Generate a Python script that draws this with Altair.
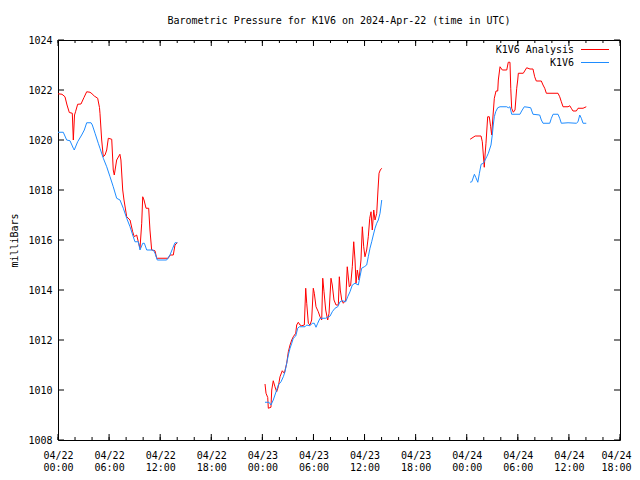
import altair as alt
import pandas as pd

# Hours since 2024-04-22 00:00 UTC, pressure in millibars
red1_h = [0.0, 0.47, 0.82, 1.06, 1.33, 1.68, 1.80, 1.94, 2.06, 2.31, 2.70, 3.05, 3.37, 3.76, 3.99, 4.26, 4.66, 4.87, 4.93, 5.13, 5.32, 5.52, 5.72, 5.91, 6.31, 6.49, 6.61, 6.89, 7.27, 7.39, 7.60, 7.75, 8.07, 8.46, 8.77, 8.96, 9.24, 9.43, 9.63, 9.83, 9.95, 10.10, 10.34, 10.65, 10.80, 11.00, 11.39, 11.59, 12.95, 13.15, 13.54, 13.74, 14.01]
red1_v = [1021.85, 1021.83, 1021.73, 1021.4, 1021.1, 1021.07, 1020.0, 1021.0, 1021.13, 1021.43, 1021.44, 1021.7, 1021.93, 1021.91, 1021.85, 1021.76, 1021.67, 1021.3, 1021.07, 1020.0, 1019.33, 1019.4, 1019.6, 1020.07, 1020.03, 1018.8, 1018.6, 1019.2, 1019.43, 1019.2, 1018.0, 1017.6, 1016.93, 1016.8, 1016.33, 1016.13, 1016.2, 1015.93, 1015.67, 1016.67, 1017.73, 1017.6, 1017.27, 1017.27, 1016.4, 1015.6, 1015.57, 1015.27, 1015.27, 1015.4, 1015.4, 1015.8, 1015.89]

blue1_h = [0.0, 0.62, 1.02, 1.41, 1.80, 1.91, 2.31, 2.78, 3.09, 3.37, 3.88, 4.03, 4.35, 4.73, 4.93, 5.32, 5.72, 6.11, 6.49, 6.89, 7.28, 7.67, 8.07, 8.46, 8.84, 9.04, 9.43, 9.63, 9.95, 10.14, 10.42, 11.19, 11.39, 11.66, 12.76, 13.15, 13.47, 13.74, 14.01]
blue1_v = [1020.31, 1020.31, 1020.0, 1019.97, 1019.67, 1019.6, 1019.93, 1020.2, 1020.4, 1020.69, 1020.69, 1020.6, 1020.27, 1019.87, 1019.67, 1019.27, 1018.93, 1018.53, 1018.13, 1017.67, 1017.6, 1017.27, 1016.87, 1016.53, 1016.13, 1015.93, 1015.93, 1015.6, 1015.87, 1015.87, 1015.6, 1015.6, 1015.47, 1015.2, 1015.2, 1015.4, 1015.67, 1015.89, 1015.89]

red2_h = [24.31, 24.43, 24.63, 24.70, 25.01, 25.10, 25.28, 25.48, 25.68, 25.87, 26.07, 26.34, 26.58, 26.86, 27.05, 27.25, 27.45, 27.63, 27.92, 28.03, 28.22, 28.42, 28.62, 28.93, 29.09, 29.21, 29.40, 29.59, 29.79, 29.98, 30.10, 30.30, 30.57, 30.77, 30.97, 31.09, 31.24, 31.44, 31.67, 31.83, 32.06, 32.21, 32.41, 32.65, 32.92, 33.04, 33.15, 33.32, 33.51, 33.79, 33.97, 34.21, 34.37, 34.56, 34.73, 34.88, 35.00, 35.15, 35.35, 35.58, 35.74, 35.90, 36.05, 36.25, 36.44, 36.61, 36.76, 36.91, 37.08, 37.23, 37.43, 37.58, 37.70, 37.85, 38.02]
red2_v = [1010.24, 1009.87, 1009.7, 1009.27, 1009.31, 1010.0, 1010.37, 1010.13, 1009.93, 1010.13, 1010.53, 1010.77, 1010.67, 1011.07, 1011.53, 1011.8, 1012.0, 1012.13, 1012.27, 1012.6, 1012.71, 1012.6, 1012.57, 1012.6, 1014.07, 1013.47, 1012.67, 1012.6, 1012.8, 1014.07, 1013.87, 1013.33, 1013.13, 1012.93, 1012.8, 1014.47, 1013.93, 1013.2, 1012.8, 1013.07, 1014.47, 1014.2, 1013.6, 1013.4, 1013.4, 1014.53, 1014.0, 1013.6, 1013.47, 1013.6, 1014.93, 1014.13, 1014.2, 1014.93, 1015.93, 1015.2, 1014.27, 1014.8, 1014.4, 1015.2, 1016.53, 1015.73, 1015.33, 1015.6, 1016.13, 1016.87, 1017.13, 1016.4, 1017.2, 1016.8, 1017.07, 1018.0, 1018.67, 1018.8, 1018.87]

blue2_h = [24.31, 24.78, 25.01, 25.28, 25.48, 25.68, 25.87, 26.19, 26.46, 26.66, 26.86, 27.05, 27.25, 27.45, 27.63, 27.92, 28.15, 28.34, 29.01, 29.21, 29.59, 29.86, 30.10, 30.30, 30.50, 30.77, 31.44, 31.74, 31.94, 32.21, 32.53, 32.85, 33.12, 33.39, 33.79, 34.02, 34.29, 34.56, 34.88, 35.27, 35.46, 35.66, 35.97, 36.25, 36.44, 36.64, 36.84, 37.03, 37.23, 37.43, 37.62, 37.82, 38.02]
blue2_v = [1009.51, 1009.51, 1009.4, 1009.6, 1009.8, 1010.0, 1010.2, 1010.33, 1010.53, 1010.73, 1011.07, 1011.4, 1011.67, 1011.87, 1012.07, 1012.16, 1012.47, 1012.53, 1012.53, 1012.6, 1012.57, 1012.67, 1012.67, 1012.51, 1012.67, 1012.87, 1012.87, 1012.93, 1012.95, 1013.13, 1013.27, 1013.33, 1013.53, 1013.57, 1013.53, 1013.73, 1013.93, 1014.2, 1014.27, 1014.2, 1014.53, 1014.87, 1014.93, 1015.0, 1015.33, 1015.67, 1015.93, 1016.2, 1016.47, 1016.67, 1016.8, 1017.07, 1017.6]

red3_h = [48.40, 48.99, 49.68, 49.83, 49.95, 50.06, 50.15, 50.26, 50.46, 50.65, 50.81, 50.93, 51.05, 51.24, 51.44, 51.64, 51.71, 51.91, 52.18, 52.70, 52.88, 53.08, 53.17, 53.28, 53.47, 53.67, 53.87, 53.99, 54.06, 54.64, 55.04, 55.43, 55.78, 55.98, 56.17, 56.76, 56.96, 57.16, 57.35, 58.72, 58.92, 59.11, 59.31, 59.90, 60.10, 60.28, 60.48, 60.87, 61.07, 61.66, 62.04]
red3_v = [1020.03, 1020.16, 1020.16, 1019.93, 1019.4, 1018.91, 1019.4, 1019.87, 1020.93, 1020.93, 1020.53, 1020.2, 1020.8, 1021.67, 1021.96, 1021.96, 1022.4, 1022.93, 1022.8, 1022.8, 1023.11, 1023.11, 1022.07, 1021.27, 1021.11, 1021.2, 1022.07, 1022.4, 1022.67, 1022.67, 1022.89, 1022.84, 1022.84, 1022.53, 1022.36, 1022.36, 1022.2, 1022.07, 1021.87, 1021.87, 1021.73, 1021.53, 1021.33, 1021.33, 1021.37, 1021.27, 1021.16, 1021.16, 1021.27, 1021.27, 1021.33]

blue3_h = [48.40, 48.60, 48.90, 49.07, 49.30, 49.49, 49.69, 49.96, 50.15, 50.35, 50.54, 50.85, 51.00, 51.12, 51.24, 51.40, 51.64, 51.91, 52.70, 52.88, 53.08, 53.28, 54.25, 54.45, 54.76, 55.19, 55.51, 55.78, 56.57, 56.76, 56.96, 57.75, 57.94, 58.14, 58.72, 58.92, 59.11, 59.90, 60.87, 61.07, 61.27, 61.46, 61.66, 62.04]
blue3_v = [1018.31, 1018.33, 1018.63, 1018.5, 1018.31, 1018.67, 1019.03, 1019.07, 1019.2, 1019.33, 1019.47, 1019.8, 1020.2, 1020.6, 1020.93, 1021.13, 1021.29, 1021.33, 1021.33, 1021.29, 1021.33, 1021.03, 1021.03, 1021.16, 1021.33, 1021.31, 1021.29, 1021.03, 1021.0, 1020.8, 1020.67, 1020.67, 1020.87, 1021.03, 1021.03, 1020.87, 1020.67, 1020.69, 1020.67, 1020.73, 1021.0, 1020.87, 1020.67, 1020.67]

series_names = ["K1V6 Analysis", "K1V6"]
series_colors = ["#ff0000", "#1e8cff"]
title_text = "Barometric Pressure for K1V6 on 2024-Apr-22 (time in UTC)"
y_title = "milliBars"
x_tick_values = list(range(0, 67, 6))
x_minor_values = list(range(0, 67, 2))
y_tick_values = list(range(1008, 1025, 2))

rows = []
for name, seg, hs, vs in [
    ("K1V6 Analysis", 1, red1_h, red1_v), ("K1V6 Analysis", 2, red2_h, red2_v), ("K1V6 Analysis", 3, red3_h, red3_v),
    ("K1V6", 1, blue1_h, blue1_v), ("K1V6", 2, blue2_h, blue2_v), ("K1V6", 3, blue3_h, blue3_v),
]:
    for h, v in zip(hs, vs):
        rows.append({"series": name, "seg": f"{name}-{seg}", "hour": h, "mb": v})
df = pd.DataFrame(rows)

W, H = 562, 400
FONT = "DejaVu Sans Mono"

xscale = alt.Scale(domain=[0, 66], nice=False, zero=False)
yscale = alt.Scale(domain=[1008, 1024], nice=False, zero=False)

x_axis = alt.Axis(
    values=x_tick_values, title=None, domain=False, ticks=False, grid=False,
    labelExpr="['04/' + (22 + floor(datum.value / 24)), (datum.value % 24 < 10 ? '0' : '') + (datum.value % 24) + ':00']",
    labelFont=FONT, labelFontSize=10, labelColor="black", labelPadding=10, labelLineHeight=12,
    labelFlush=False, labelOverlap=False,
    labelOffset={"condition": {"test": "datum.value == 66", "value": -4}, "value": 0},
)
y_axis = alt.Axis(
    values=y_tick_values, title=y_title, domain=False, ticks=False, grid=False, format="d",
    labelFont=FONT, labelFontSize=10, labelColor="black", labelPadding=6,
    titleFont=FONT, titleFontSize=10, titleFontWeight="normal", titleColor="black",
    titleX=-44, titleY=H / 2, titleAngle=-90, titleAlign="center", titleBaseline="middle",
)

lines = alt.Chart(df).mark_line(strokeWidth=1, clip=True).encode(
    x=alt.X("hour:Q", scale=xscale, axis=x_axis),
    y=alt.Y("mb:Q", scale=yscale, axis=y_axis),
    color=alt.Color("series:N", scale=alt.Scale(domain=series_names, range=series_colors), legend=None),
    detail="seg:N",
    order="hour:Q",
)

xmaj = pd.DataFrame({"hour": x_tick_values})
xmin = pd.DataFrame({"hour": x_minor_values})
ydf = pd.DataFrame({"mb": y_tick_values})

def xt(d, y, y2):
    return alt.Chart(d).mark_rule(color="black", strokeWidth=1).encode(
        x=alt.X("hour:Q", scale=xscale), y=alt.value(y), y2=alt.value(y2))

def yt(x, x2):
    return alt.Chart(ydf).mark_rule(color="black", strokeWidth=1).encode(
        y=alt.Y("mb:Q", scale=yscale), x=alt.value(x), x2=alt.value(x2))

ticks = [
    xt(xmaj, H, H - 6), xt(xmaj, 0, 6), xt(xmin, H, H - 3), xt(xmin, 0, 3),
    yt(0, 6), yt(W, W - 6),
]

leg_rows = [(series_names[0], series_colors[0], 9.5), (series_names[1], series_colors[1], 22.5)]
legend_layers = []
for name, col, ly in leg_rows:
    legend_layers.append(
        alt.Chart(df.head(1)).mark_text(font=FONT, fontSize=10, align="right", baseline="middle", color="black").encode(
            x=alt.value(516), y=alt.value(ly), text=alt.value(name))
    )
    legend_layers.append(
        alt.Chart(df.head(1)).mark_rule(color=col, strokeWidth=1).encode(
            x=alt.value(523), x2=alt.value(551), y=alt.value(ly))
    )

chart = alt.layer(lines, *ticks, *legend_layers).properties(
    width=W, height=H,
    title=alt.TitleParams(title_text, font=FONT, fontSize=10, fontWeight="normal", color="black", anchor="middle", offset=9),
    autosize=alt.AutoSizeParams(type="none"),
    padding={"left": 50, "top": 32, "right": 12, "bottom": 40},
    background="white",
).configure_view(stroke="black", strokeWidth=1)

chart.save("out.html", embed_options={"renderer": "svg", "actions": False})
